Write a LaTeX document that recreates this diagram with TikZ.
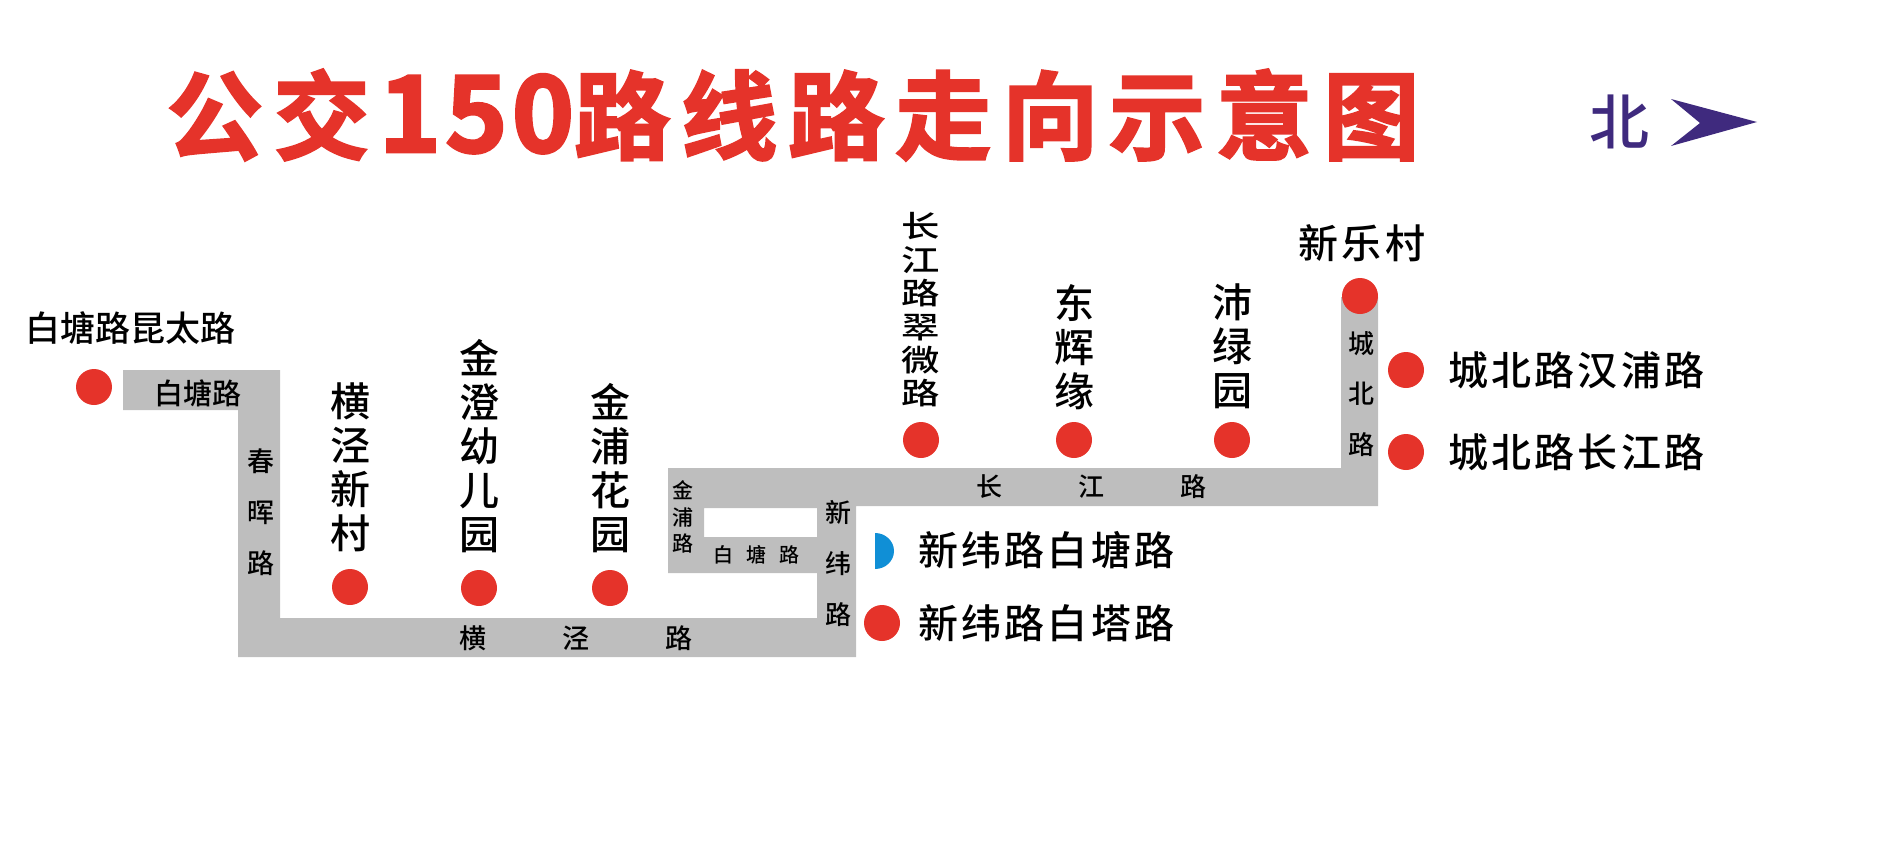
\documentclass[tikz,border=0pt]{standalone}
\usepackage{fontspec}
\setmainfont{Noto Sans CJK SC Medium}
\newfontfamily\titlefont[FakeBold=2.5]{Noto Sans CJK SC Bold}
\definecolor{road}{HTML}{BEBEBE}
\definecolor{stopred}{HTML}{E5332A}
\definecolor{navy}{HTML}{3F2A7E}
\definecolor{sky}{HTML}{108FD6}
\newcommand{\fs}[2]{\fontsize{#1}{#2}\selectfont}
\tikzset{
  stopdot/.style={circle,fill=stopred,minimum size=36pt,inner sep=0pt},
  biglab/.style={inner sep=0pt,align=center,text=black,font=\fs{40}{44}},
  sidelab/.style={inner sep=0pt,anchor=west,text=black,font=\fs{40}{44}\addfontfeature{LetterSpace=8}},
  squeezed/.style={inner sep=0pt,align=center,text=black,font=\fs{30}{33.4},xscale=1.28,transform shape},
  roadlab/.style={inner sep=0pt,align=center,text=black,font=\fs{27}{51}},
  smalllab/.style={inner sep=0pt,align=center,text=black,font=\fs{21}{26.5}},
}
\begin{document}
\begin{tikzpicture}[x=1pt,y=-1pt]
\useasboundingbox (0,0) rectangle (1890,846);
% road band
\fill[road,even odd rule]
  (123,370) -- (280,370) -- (280,618) -- (817,618) -- (817,573) -- (668,573) -- (668,468)
  -- (1341,468) -- (1341,297) -- (1378,297) -- (1378,506) -- (856,506) -- (856,657)
  -- (238,657) -- (238,410) -- (123,410) -- cycle
  (704,508) -- (817,508) -- (817,537) -- (704,537) -- cycle;
% title
\node[inner sep=0pt,anchor=center,text=stopred] (title) at (793,115)
  {\titlefont\fs{96}{96}公\kern11pt 交\kern9pt {\fs{106}{96}1\kern4pt 5\kern4pt 0}\kern0pt 路\kern11pt 线\kern11pt 路\kern11pt 走\kern11pt 向\kern11pt 示\kern11pt 意\kern11pt 图};
% north mark
\node[inner sep=0pt,text=navy,font=\fs{60}{60}] (north) at (1619,122) {北};
\fill[navy] (1671,99) -- (1757,122) -- (1671,146) -- (1700,123) -- cycle;
% stops
\node[stopdot] (s1) at (94,387) {};
\node[stopdot] (s2) at (350,587) {};
\node[stopdot] (s3) at (479,588) {};
\node[stopdot] (s4) at (610,588) {};
\node[stopdot] (s5) at (921,440) {};
\node[stopdot] (s6) at (1074,440) {};
\node[stopdot] (s7) at (1232,440) {};
\node[stopdot] (s8) at (1360,296) {};
\node[stopdot] (s9) at (1406,370) {};
\node[stopdot] (s10) at (1406,452) {};
\node[stopdot] (s12) at (882,623) {};
\fill[sky] (875,533) arc[start angle=90,end angle=-90,x radius=19pt,y radius=18pt] -- cycle;
% stop labels
\node[inner sep=0pt,text=black,font=\fs{35}{35}] (l1) at (130,328) {白塘路昆太路};
\node[biglab] (l2) at (350,467) {横\\泾\\新\\村};
\node[biglab] (l3) at (479,446) {金\\澄\\幼\\儿\\园};
\node[biglab] (l4) at (610,468) {金\\浦\\花\\园};
\node[squeezed] (l5) at (921,310) {长\\江\\路\\翠\\微\\路};
\node[biglab] (l6) at (1074,347) {东\\辉\\缘};
\node[biglab] (l7) at (1232,346) {沛\\绿\\园};
\node[biglab] (l8) at (1362,243) {\addfontfeature{LetterSpace=8}新乐村};
\node[sidelab] (l9) at (1448,370) {城北路汉浦路};
\node[sidelab] (l10) at (1448,452) {城北路长江路};
\node[sidelab] (l11) at (918,550) {新纬路白塘路};
\node[sidelab] (l12) at (918,623) {新纬路白塔路};
% road names
\node[inner sep=0pt,text=black,font=\fs{29}{29}] (r1) at (198,393) {白塘路};
\node[roadlab] (r2) at (261,512) {春\\晖\\路};
\node[inner sep=0pt,text=black,font=\fs{27}{27}] (r3) at (576,638) {横\kern76pt 泾\kern76pt 路};
\node[smalllab] (r4) at (683,517) {金\\浦\\路};
\node[inner sep=0pt,text=black,font=\fs{20}{20}] (r5) at (756,555) {白\kern13pt 塘\kern13pt 路};
\node[roadlab,font=\fs{26}{51}] (r6) at (838,564) {新\\纬\\路};
\node[inner sep=0pt,text=black,font=\fs{26}{26}] (r7) at (1091,487) {长\kern76pt 江\kern76pt 路};
\node[roadlab,font=\fs{26}{50.5}] (r8) at (1361,394) {城\\北\\路};
\end{tikzpicture}
\end{document}
